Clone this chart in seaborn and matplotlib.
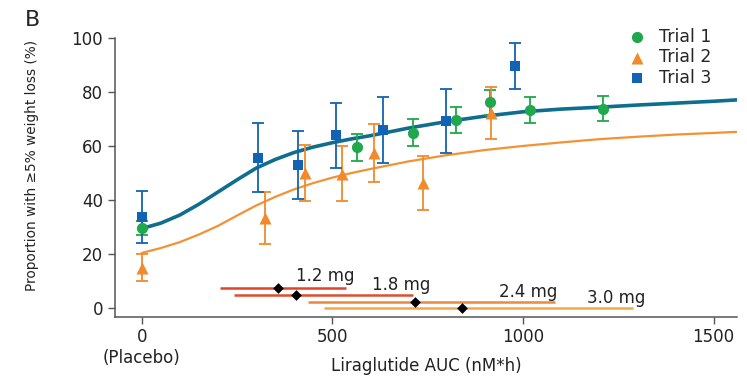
import numpy as np
import pandas as pd
import seaborn as sns
import matplotlib
matplotlib.use("Agg")
import matplotlib.pyplot as plt

trial1_auc = [0, 565, 711, 824, 914, 1019, 1211]
trial1_pct = [29.7, 59.5, 64.8, 69.5, 76.2, 73.2, 73.8]
trial1_err = [2.5, 5.0, 5.0, 4.8, 4.6, 4.9, 4.5]

trial2_auc = [0, 324, 429, 525, 610, 737, 916]
trial2_pct = [15.1, 33.4, 50.0, 49.8, 57.4, 46.3, 72.2]
trial2_err = [5.0, 9.7, 10.5, 10.3, 10.6, 10.1, 9.5]

trial3_auc = [0, 306, 411, 510, 632, 799, 980]
trial3_pct = [33.8, 55.7, 52.9, 63.9, 65.8, 69.1, 89.4]
trial3_err = [9.7, 12.7, 12.6, 12.0, 12.2, 11.8, 8.5]

# model curves
curve_auc = [0, 50, 100, 150, 200, 250, 300, 350, 400, 450, 500, 550, 600,
             700, 800, 900, 1000, 1100, 1200, 1300, 1400, 1500, 1560]
curve_upper = [29.5, 31.5, 34.5, 38.5, 43.0, 47.5, 51.8, 55.0, 57.6, 59.6, 61.2, 62.6, 63.8,
               66.6, 69.0, 71.0, 72.6, 73.6, 74.3, 75.1, 75.8, 76.5, 77.0]
curve_lower = [20.5, 22.3, 24.5, 27.3, 30.5, 34.3, 38.0, 41.2, 44.0, 46.3, 48.3, 50.0, 51.5,
               54.3, 56.6, 58.5, 60.0, 61.3, 62.5, 63.4, 64.2, 64.8, 65.2]

# exposure ranges by dose
dose_labels = ["1.2 mg", "1.8 mg", "2.4 mg", "3.0 mg"]
dose_lo = [206, 242, 436, 479]
dose_hi = [536, 711, 1084, 1289]
dose_med = [358, 405, 717, 840]
dose_row = [7.4, 4.9, 2.4, 0.2]
dose_text_x = [404, 604, 938, 1168]
dose_text_y = [12.0, 8.6, 6.1, 4.0]

green = "#1fa84c"
orange = "#f08a2c"
blue = "#1263b3"
teal = "#0f6d8e"
dose_colors = ["#e0442c", "#dd4f2e", "#e98b3a", "#f2a945"]

sns.set_style("ticks")
plt.rcParams["font.family"] = ["DejaVu Sans"]

fig = plt.figure(figsize=(7.47, 3.76), dpi=100)
ax = fig.add_axes([0.154, 0.158, 0.833, 0.742])

sns.lineplot(x=curve_auc, y=curve_lower, color="#f39235", lw=1.6, ax=ax)
sns.lineplot(x=curve_auc, y=curve_upper, color=teal, lw=2.6, ax=ax)

trials = [
    ("Trial 1", trial1_auc, trial1_pct, trial1_err, green, "o", 65),
    ("Trial 2", trial2_auc, trial2_pct, trial2_err, orange, "^", 75),
    ("Trial 3", trial3_auc, trial3_pct, trial3_err, blue, "s", 42),
]
for name, xs, ys, es, c, m, s in trials:
    ax.errorbar(xs, ys, yerr=es, fmt="none", ecolor=c, elinewidth=1.3,
                capsize=4, capthick=1.3, zorder=3)
    sns.scatterplot(x=xs, y=ys, color=c, marker=m, s=s, linewidth=0,
                    label=name, ax=ax, zorder=4)

for i in range(len(dose_labels)):
    ax.hlines(dose_row[i], dose_lo[i], dose_hi[i], color=dose_colors[i], lw=1.8, zorder=2)
    ax.text(dose_text_x[i], dose_text_y[i], dose_labels[i], fontsize=12,
            ha="left", va="center", color="#222222")
sns.scatterplot(x=dose_med, y=dose_row, color="black", marker="D", s=30,
                linewidth=0, ax=ax, zorder=5)

ax.set_xlim(-70, 1562)
ax.set_ylim(-3, 100)
ax.set_xticks([0, 500, 1000, 1500])
ax.set_xticklabels(["0\n(Placebo)", "500", "1000", "1500"])
ax.set_yticks([0, 20, 40, 60, 80, 100])
ax.tick_params(labelsize=12, length=5, width=1, color="#555555", labelcolor="#222222")
for sp in ["left", "bottom"]:
    ax.spines[sp].set_color("#555555")
    ax.spines[sp].set_linewidth(1.1)
sns.despine(ax=ax)

ax.set_xlabel("Liraglutide AUC (nM*h)", fontsize=12, color="#222222")
ax.xaxis.set_label_coords(0.5, -0.145)
ax.set_ylabel("Proportion with \u22655% weight loss (%)", fontsize=9.8, color="#222222")
ax.yaxis.set_label_coords(-0.122, 0.54)

ax.legend(loc="upper right", bbox_to_anchor=(0.97, 1.06), frameon=False,
          fontsize=12.5, handletextpad=0.3, labelspacing=0.15, borderaxespad=0)

fig.text(0.033, 0.948, "B", fontsize=16, ha="left", va="center")

fig.savefig("out.png", dpi=100)
